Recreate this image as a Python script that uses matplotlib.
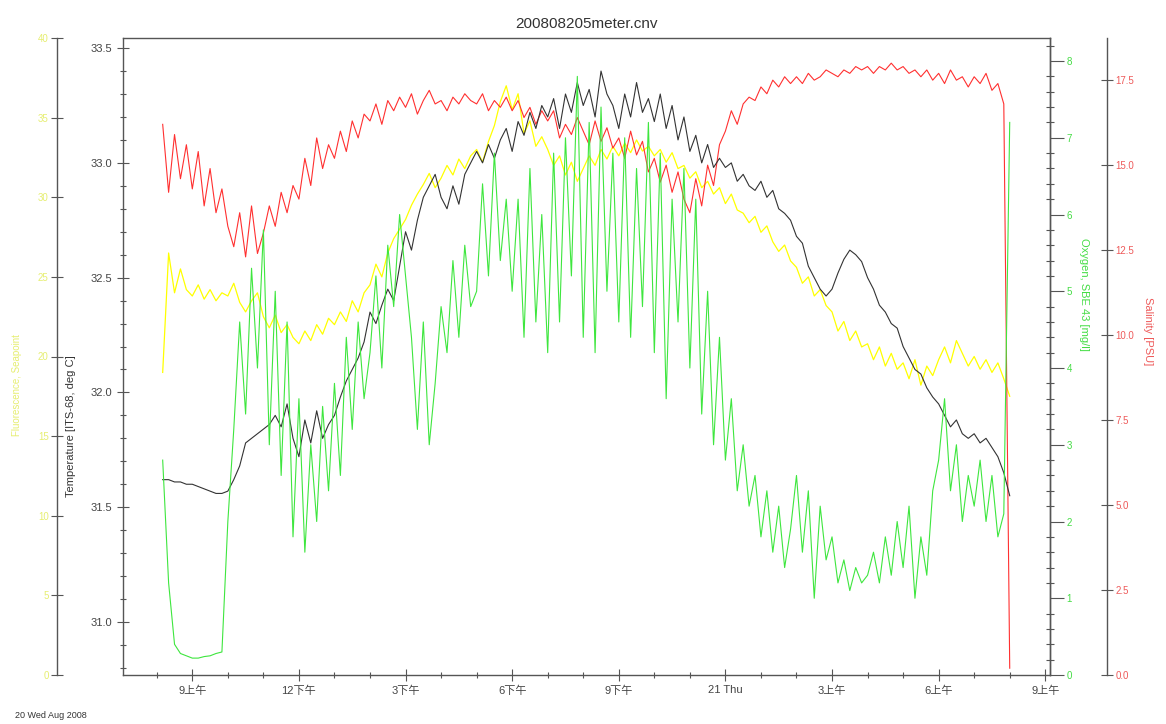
import matplotlib
matplotlib.use('Agg')
import matplotlib.pyplot as plt
import matplotlib.dates as mdates
import matplotlib.ticker as mticker
import pandas as pd

plt.rcParams['font.family'] = ['Liberation Sans', 'Noto Sans CJK SC', 'DejaVu Sans']

# DATA  (10 minute samples, 20 Aug 2008 08:10 -> 21 Aug 2008 08:00)
start_time = '2008-08-20 08:10'
n_samples = 144

temperature = [
    31.62, 31.62, 31.61, 31.61, 31.60,
    31.60, 31.59, 31.58, 31.57, 31.56, 31.56,
    31.57, 31.62, 31.68, 31.78, 31.80, 31.82,
    31.84, 31.86, 31.90, 31.85, 31.95, 31.80,
    31.72, 31.88, 31.78, 31.92, 31.80, 31.86,
    31.90, 31.98, 32.05, 32.10, 32.15, 32.22,
    32.35, 32.30, 32.38, 32.45, 32.40, 32.55,
    32.70, 32.62, 32.75, 32.85, 32.90, 32.95,
    32.85, 32.80, 32.90, 32.82, 32.95, 33.00,
    33.05, 33.00, 33.08, 33.02, 33.10, 33.15,
    33.05, 33.18, 33.12, 33.22, 33.15, 33.25,
    33.20, 33.28, 33.15, 33.30, 33.22, 33.35,
    33.25, 33.32, 33.20, 33.40, 33.30, 33.25,
    33.15, 33.30, 33.20, 33.35, 33.22, 33.28,
    33.18, 33.30, 33.15, 33.25, 33.10, 33.20,
    33.05, 33.12, 33.00, 33.08, 32.98, 33.02,
    32.98, 33.00, 32.92, 32.95, 32.90, 32.88,
    32.92, 32.85, 32.88, 32.80, 32.78, 32.75,
    32.68, 32.65, 32.55, 32.50, 32.45, 32.42,
    32.45, 32.52, 32.58, 32.62, 32.60, 32.57,
    32.50, 32.45, 32.38, 32.35, 32.30, 32.28,
    32.20, 32.15, 32.10, 32.08, 32.02, 31.98,
    31.95, 31.90, 31.85, 31.88, 31.82, 31.80,
    31.82, 31.78, 31.80, 31.76, 31.72, 31.65,
    31.55,
]

salinity = [
    16.2, 14.2, 15.9, 14.6, 15.6,
    14.3, 15.4, 13.8, 14.9, 13.6, 14.3,
    13.2, 12.6, 13.6, 12.3, 13.8, 12.4,
    13.0, 13.8, 13.2, 14.2, 13.6, 14.4,
    14.0, 15.2, 14.4, 15.8, 14.9, 15.6,
    15.2, 16.0, 15.4, 16.3, 15.8, 16.5,
    16.3, 16.8, 16.2, 16.9, 16.6, 17.0,
    16.7, 17.1, 16.5, 16.9, 17.2, 16.8,
    16.9, 16.6, 17.0, 16.8, 17.1, 16.9,
    16.8, 17.1, 16.6, 16.9, 16.7, 17.0,
    16.6, 16.9, 16.4, 16.7, 16.2, 16.6,
    16.3, 16.6, 15.8, 16.2, 15.9, 16.4,
    16.0, 15.6, 16.3, 15.7, 16.1, 15.5,
    15.8, 15.2, 16.0, 15.3, 15.7, 14.8,
    15.2, 14.5, 15.0, 14.2, 14.8, 14.0,
    13.6, 14.6, 13.8, 15.0, 14.4, 15.6,
    16.0, 16.6, 16.2, 16.8, 17.0, 16.9,
    17.3, 17.1, 17.5, 17.3, 17.6, 17.4,
    17.6, 17.4, 17.7, 17.5, 17.6, 17.8,
    17.7, 17.6, 17.8, 17.7, 17.9, 17.8,
    17.9, 17.7, 17.9, 17.8, 18.0, 17.8,
    17.9, 17.7, 17.8, 17.6, 17.8, 17.5,
    17.7, 17.4, 17.8, 17.5, 17.6, 17.3,
    17.6, 17.4, 17.7, 17.2, 17.4, 16.8,
    0.2,
]

oxygen = [
    2.8, 1.2, 0.4, 0.28, 0.25,
    0.22, 0.22, 0.24, 0.25, 0.28, 0.30,
    2.0, 3.2, 4.6, 3.4, 5.3, 4.0,
    5.8, 3.0, 5.0, 2.6, 4.6, 1.8,
    3.6, 1.6, 3.0, 2.0, 3.5, 2.4,
    3.8, 2.6, 4.4, 3.2, 4.6, 3.6,
    4.2, 5.2, 4.0, 5.6, 4.8, 6.0,
    5.2, 4.4, 3.2, 4.6, 3.0, 3.8,
    4.8, 4.2, 5.4, 4.4, 5.6, 4.8,
    5.0, 6.4, 5.2, 6.8, 5.4, 6.2,
    5.0, 6.2, 4.4, 6.6, 4.6, 6.0,
    4.2, 6.8, 4.6, 7.0, 5.2, 7.8,
    4.4, 7.2, 4.2, 7.4, 5.0, 6.8,
    4.6, 7.0, 4.4, 6.6, 4.8, 7.2,
    4.2, 6.8, 3.6, 6.2, 4.6, 6.6,
    4.0, 6.2, 3.4, 5.0, 3.0, 4.4,
    2.8, 3.6, 2.4, 3.0, 2.2, 2.6,
    1.8, 2.4, 1.6, 2.2, 1.4, 1.9,
    2.6, 1.6, 2.4, 1.0, 2.2, 1.5,
    1.8, 1.2, 1.5, 1.1, 1.4, 1.2,
    1.3, 1.6, 1.2, 1.8, 1.3, 2.0,
    1.4, 2.2, 1.0, 1.8, 1.3, 2.4,
    2.8, 3.6, 2.4, 3.0, 2.0, 2.6,
    2.2, 2.8, 2.0, 2.6, 1.8, 2.1,
    7.2,
]

fluorescence = [
    19.0, 26.5, 24.0, 25.5, 24.2,
    23.8, 24.5, 23.6, 24.2, 23.5, 24.0,
    23.8, 24.6, 23.4, 22.8, 23.5, 24.0,
    22.5, 21.8, 22.6, 21.5, 22.0, 21.2,
    20.8, 21.6, 21.0, 22.0, 21.4, 22.4,
    22.0, 22.8, 22.2, 23.5, 22.8, 24.0,
    24.5, 25.8, 25.0, 26.5, 27.4, 28.0,
    28.6, 29.5, 30.2, 30.8, 31.5, 30.6,
    31.2, 32.0, 31.4, 32.4, 31.8, 32.6,
    33.0, 32.2, 33.5, 34.5, 36.0, 37.0,
    35.5, 36.5, 34.0, 34.8, 33.2, 33.8,
    33.0, 32.0, 32.6, 31.4, 32.2, 31.0,
    31.8, 32.6, 32.0, 33.0, 32.4, 33.2,
    32.6, 33.4, 32.8, 33.6, 32.9, 33.2,
    32.6, 33.0, 32.2, 32.8, 31.8, 32.0,
    31.2, 31.6, 30.6, 31.0, 30.2, 30.6,
    29.6, 30.2, 29.2, 29.0, 28.4, 28.8,
    27.8, 28.2, 27.2, 26.6, 27.0, 26.0,
    25.6, 24.6, 25.0, 23.8, 24.2, 23.2,
    22.8, 21.6, 22.2, 21.0, 21.6, 20.6,
    20.8, 19.8, 20.6, 19.4, 20.2, 19.2,
    19.6, 18.6, 19.8, 18.2, 19.4, 18.8,
    19.8, 20.6, 19.6, 21.0, 20.2, 19.4,
    20.0, 19.2, 19.8, 19.0, 19.6, 18.6,
    17.5,
]

times = pd.date_range(start_time, periods=n_samples, freq='10min')

axis_grey = '#555555'
c_temp = '#333333'
c_fluo = '#ffff00'
c_oxy = '#3ee63e'
c_sal = '#ff3030'
px = 72 / 100  # points per pixel at dpi 100


def time_label(x, pos):
    d = mdates.num2date(x)
    if d.hour == 0:
        return '%d %s' % (d.day, d.strftime('%a'))
    h12 = d.hour % 12 or 12
    return '%d%s' % (h12, '上午' if d.hour < 12 else '下午')


fig = plt.figure(figsize=(11.66, 7.24), dpi=100)
fig.patch.set_facecolor('white')
ax = fig.add_axes([123 / 1166, 49 / 724, 927 / 1166, 637 / 724])

# yellow (fluorescence) axis, far left
ay = ax.twinx()
ay.yaxis.set_ticks_position('left')
ay.yaxis.set_label_position('left')
ay.spines['left'].set_position(('outward', 66 * px))
ay.spines['left'].set_visible(True)
for s in ['right', 'top', 'bottom']:
    ay.spines[s].set_visible(False)
ay.plot(times, fluorescence, color=c_fluo, lw=0.9)
ay.set_ylim(0, 40)
ay.yaxis.set_major_locator(mticker.MultipleLocator(5))
ay.tick_params(axis='y', direction='inout', length=8, width=0.8, labelsize=7,
               labelcolor='#e6ee70', color=axis_grey, pad=2)
ay.set_ylabel('Fluorescence, Seapoint', fontsize=7, color='#e6ee70')
ay.yaxis.set_label_coords(-0.109, 0.455)

# red (salinity) axis, far right
ar = ax.twinx()
ar.spines['right'].set_position(('outward', 57 * px))
for s in ['left', 'top', 'bottom']:
    ar.spines[s].set_visible(False)
ar.plot(times, salinity, color=c_sal, lw=0.8)
ar.set_ylim(0, 18.74)
ar.yaxis.set_major_locator(mticker.MultipleLocator(2.5))
ar.yaxis.set_major_formatter(mticker.FormatStrFormatter('%.1f'))
ar.tick_params(axis='y', direction='inout', length=8, width=0.8, labelsize=7,
               labelcolor='#ee5a5a', color=axis_grey, pad=2)
ar.set_ylabel('Salinity [PSU]', fontsize=8, color='#ee5a5a', rotation=-90, va='bottom')
ar.yaxis.set_label_coords(1.100, 0.54)

# main temperature line
ax.plot(times, temperature, color=c_temp, lw=0.8, zorder=3)
ax.set_zorder(ar.get_zorder() + 1)
ax.patch.set_visible(False)

# green (oxygen) axis on the plot's right spine
ag = ax.twinx()
for s in ['left', 'top', 'bottom']:
    ag.spines[s].set_visible(False)
ag.plot(times, oxygen, color=c_oxy, lw=0.8)
ag.set_ylim(0, 8.30)
ag.yaxis.set_major_locator(mticker.MultipleLocator(1))
ag.yaxis.set_minor_locator(mticker.MultipleLocator(0.2))
ag.tick_params(axis='y', which='major', direction='out', length=10, width=0.8,
               labelsize=7, labelcolor='#44dd44', color=axis_grey, pad=2)
ag.tick_params(axis='y', which='minor', direction='inout', length=6, width=0.8,
               color=axis_grey)
ag.set_ylabel('Oxygen, SBE 43 [mg/l]', fontsize=8, color='#44dd44', rotation=-90, va='bottom')
ag.yaxis.set_label_coords(1.031, 0.597)
ag.set_zorder(ax.get_zorder() + 1)
ag.patch.set_visible(False)

ax.set_ylim(30.769, 33.544)
ax.set_xlim(pd.Timestamp('2008-08-20 07:03'), pd.Timestamp('2008-08-21 09:08'))
ax.yaxis.set_major_locator(mticker.MultipleLocator(0.5))
ax.yaxis.set_minor_locator(mticker.MultipleLocator(0.1))
ax.yaxis.set_major_formatter(mticker.FormatStrFormatter('%.1f'))
ax.xaxis.set_major_locator(mdates.HourLocator(byhour=[0, 3, 6, 9, 12, 15, 18, 21]))
ax.xaxis.set_minor_locator(mdates.HourLocator())
ax.xaxis.set_major_formatter(mticker.FuncFormatter(time_label))
ax.tick_params(axis='both', which='major', direction='inout', length=8, width=0.8,
               labelsize=8, labelcolor='#444444', color=axis_grey)
ax.tick_params(axis='both', which='minor', direction='inout', length=5, width=0.8,
               color=axis_grey)
ax.set_ylabel('Temperature [ITS-68, deg C]', fontsize=8, color='#333333')
ax.yaxis.set_label_coords(-0.051, 0.39)

for a in [ax, ay, ar, ag]:
    for s in a.spines.values():
        s.set_color(axis_grey)
        s.set_linewidth(1.0)

ax.set_title('200808205meter.cnv', fontsize=11, color='#333333', pad=7)
fig.text(15 / 1166, 1 - 715 / 724, '20 Wed Aug 2008', fontsize=6.5, color='#333333',
         va='center')

fig.savefig('out.png', dpi=100)
